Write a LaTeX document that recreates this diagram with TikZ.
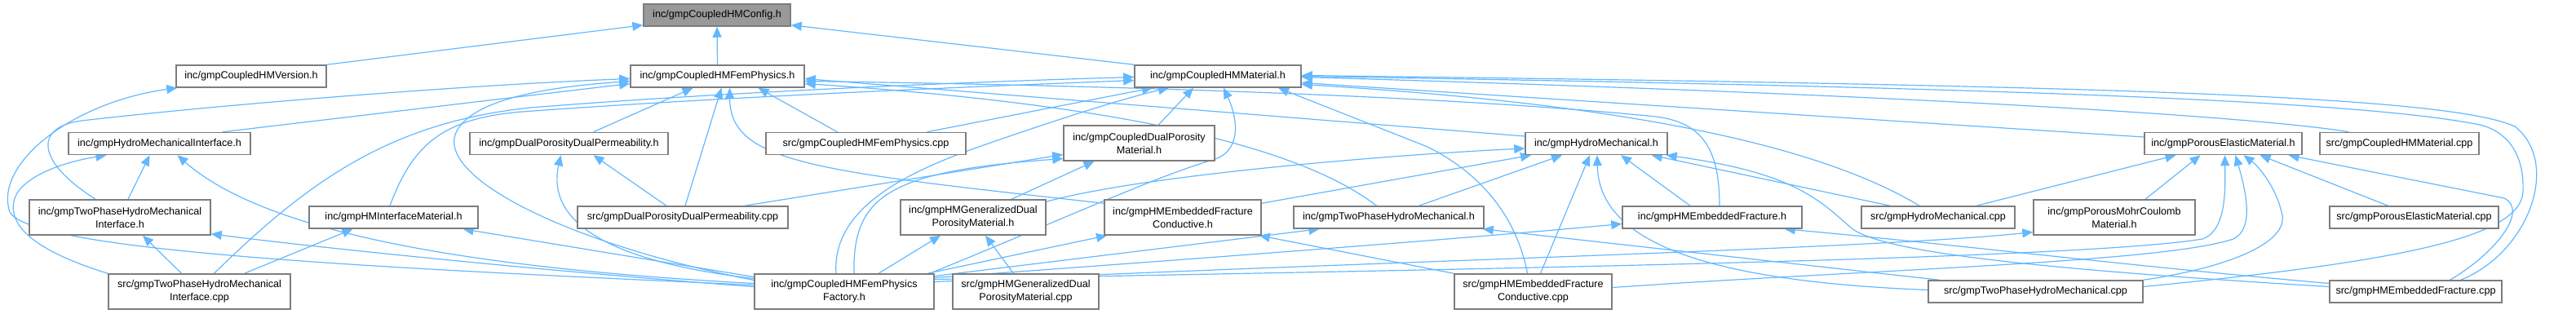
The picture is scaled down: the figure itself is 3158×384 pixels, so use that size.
\documentclass[tikz,border=0pt]{standalone}
\usepackage{fontspec}
\setmainfont{Liberation Sans}
\usetikzlibrary{arrows.meta}
\definecolor{edgeblue}{RGB}{99,184,255}
\definecolor{boxline}{RGB}{125,125,125}
\definecolor{rootfill}{RGB}{153,153,153}
\pgfdeclarelayer{bg}
\pgfsetlayers{bg,main}
\tikzset{
  box/.style={draw=boxline, line width=1.5pt, fill=white, minimum height=27pt, inner sep=0pt,
    font=\fontsize{12.6pt}{16pt}\selectfont, text=black},
  boxtwo/.style={box, minimum height=43pt, align=center},
  edge/.style={draw=edgeblue, line width=1.2pt, -{Triangle[length=13pt,width=11pt]}}
}
\begin{document}
\begin{tikzpicture}[x=1pt,y=-1pt]
\useasboundingbox (0,0) rectangle (3158,384);
% nodes
\node[box, minimum width=180pt, fill=rootfill] (cfg) at (879,18.5) {inc/gmpCoupledHMConfig.h};
\node[box, minimum width=184pt] (ver) at (308,93.5) {inc/gmpCoupledHMVersion.h};
\node[box, minimum width=213pt] (fem) at (879.5,93.5) {inc/gmpCoupledHMFemPhysics.h};
\node[box, minimum width=204pt] (mat) at (1493,93.5) {inc/gmpCoupledHMMaterial.h};
\node[box, minimum width=223pt] (hmi) at (195.5,176) {inc/gmpHydroMechanicalInterface.h};
\node[box, minimum width=243pt] (dpdp) at (697.5,176) {inc/gmpDualPorosityDualPermeability.h};
\node[box, minimum width=245pt] (femcpp) at (1061.5,176) {src/gmpCoupledHMFemPhysics.cpp};
\node[boxtwo, minimum width=185pt] (cdpm) at (1396.5,175.5) {inc/gmpCoupledDualPorosity\\Material.h};
\node[box, minimum width=174pt] (hm) at (1957,176) {inc/gmpHydroMechanical.h};
\node[box, minimum width=193pt] (pem) at (2725.5,176) {inc/gmpPorousElasticMaterial.h};
\node[box, minimum width=195pt] (matcpp) at (2941.5,176) {src/gmpCoupledHMMaterial.cpp};
\node[boxtwo, minimum width=222pt] (tphmi) at (147,266.5) {inc/gmpTwoPhaseHydroMechanical\\Interface.h};
\node[box, minimum width=207pt] (hmim) at (482.5,266.5) {inc/gmpHMInterfaceMaterial.h};
\node[box, minimum width=258pt] (dpdpcpp) at (837,266.5) {src/gmpDualPorosityDualPermeability.cpp};
\node[boxtwo, minimum width=178pt] (hmgdpm) at (1193,266.5) {inc/gmpHMGeneralizedDual\\PorosityMaterial.h};
\node[boxtwo, minimum width=192pt] (efc) at (1450,266.5) {inc/gmpHMEmbeddedFracture\\Conductive.h};
\node[box, minimum width=233pt] (tphm) at (1702.5,266.5) {inc/gmpTwoPhaseHydroMechanical.h};
\node[box, minimum width=220pt] (ef) at (2099,266.5) {inc/gmpHMEmbeddedFracture.h};
\node[box, minimum width=188pt] (hmcpp) at (2376,266.5) {src/gmpHydroMechanical.cpp};
\node[boxtwo, minimum width=198pt] (pmc) at (2592,266.5) {inc/gmpPorousMohrCoulomb\\Material.h};
\node[box, minimum width=207pt] (pecpp) at (2959.5,266.5) {src/gmpPorousElasticMaterial.cpp};
\node[boxtwo, minimum width=223pt] (tphmicpp) at (244.5,357.5) {src/gmpTwoPhaseHydroMechanical\\Interface.cpp};
\node[boxtwo, minimum width=220pt] (fac) at (1035,357.5) {inc/gmpCoupledHMFemPhysics\\Factory.h};
\node[boxtwo, minimum width=179pt] (hmgdpmcpp) at (1257.5,357.5) {src/gmpHMGeneralizedDual\\PorosityMaterial.cpp};
\node[boxtwo, minimum width=193pt] (efccpp) at (1879.5,357.5) {src/gmpHMEmbeddedFracture\\Conductive.cpp};
\node[box, minimum width=263pt] (tphmcpp) at (2495.5,357.5) {src/gmpTwoPhaseHydroMechanical.cpp};
\node[box, minimum width=211pt] (efcpp) at (2961.5,357.5) {src/gmpHMEmbeddedFracture.cpp};
% edges
\begin{pgfonlayer}{bg}
\draw[edge] (ver.north east) -- ([yshift=2pt]cfg.south west);
\draw[edge] (fem.north) -- (cfg.south);
\draw[edge] (mat.north west) -- ([yshift=2pt]cfg.south east);
\draw[edge] ([yshift=8pt]fac.west) .. controls (500,330) and (40,310) .. (12,260) .. controls (-8,200) and (90,125) .. ([xshift=2pt]ver.south west);
\draw[edge] ([xshift=77.5pt]hmi.north) -- ([yshift=-9pt]fem.west);
\draw[edge] ([xshift=-30pt]tphmi.north) .. controls (40,195) and (45,155) .. (100,148) .. controls (300,125) and (600,103) .. ([yshift=-3pt]fem.west);
\draw[edge] ([yshift=14pt]fac.west) .. controls (700,300) and (540,220) .. (558,165) .. controls (575,120) and (680,106) .. ([yshift=-6pt]fem.west);
\draw[edge] ([xshift=30pt]dpdp.north) -- ([xshift=-30pt]fem.south);
\draw[edge] ([xshift=3pt]dpdpcpp.north) -- ([xshift=5pt]fem.south);
\draw[edge] ([xshift=-35pt]femcpp.north) -- ([xshift=50pt]fem.south);
\draw[edge] ([yshift=-5pt]efc.north west) .. controls (1000,210) and (895,200) .. ([xshift=15pt]fem.south);
\draw[edge] ([yshift=9pt]hm.west) -- ([yshift=-3pt]fem.east);
\draw[edge] ([xshift=9pt]ef.north) .. controls (2108,180) and (2085,150) .. (2030,143) .. controls (1750,115) and (1300,104) .. ([yshift=-6pt]fem.east);
\draw[edge] ([xshift=-15pt]tphm.north) .. controls (1600,185) and (1400,130) .. ([yshift=-9pt]fem.east);
\draw[edge] ([xshift=23.5pt]cdpm.north) -- ([xshift=-30pt]mat.south);
\draw[edge] ([xshift=18pt]tphmicpp.north) .. controls (380,220) and (480,150) .. (650,132) .. controls (900,112) and (1200,100) .. ([yshift=-1pt]mat.west);
\draw[edge] ([xshift=-4.5pt]hmim.north) .. controls (505,180) and (540,145) .. (640,137) .. controls (900,118) and (1200,106) .. ([yshift=-5pt]mat.west);
\draw[edge] ([xshift=105pt]fac.north) .. controls (1300,270) and (1420,215) .. (1490,195) .. controls (1525,182) and (1515,140) .. ([xshift=7pt]mat.south);
\draw[edge] ([xshift=-10pt]fac.north) .. controls (1020,260) and (1100,215) .. (1200,180) .. controls (1300,145) and (1380,120) .. ([xshift=-60pt]mat.south);
\draw[edge] ([xshift=12pt]fac.north) .. controls (1045,240) and (1090,210) .. ([yshift=-19pt]cdpm.west);
\draw[edge] ([xshift=75pt]femcpp.north) -- ([xshift=-80pt]mat.south);
\draw[edge] ([xshift=-7pt]efccpp.north) .. controls (1860,270) and (1820,215) .. (1750,180) -- ([xshift=74pt]mat.south);
\draw[edge] ([xshift=-62pt]matcpp.north) .. controls (2780,145) and (2400,118) .. ([yshift=-1pt]mat.east);
\draw[edge] ([yshift=8pt]pem.west) -- ([yshift=-8pt]mat.east);
\draw[edge] ([xshift=55pt]efcpp.north) .. controls (3100,310) and (3140,200) .. (3083,155) .. controls (3000,118) and (2600,105) .. ([yshift=1pt]mat.east);
\draw[edge] ([yshift=6pt]tphmcpp.east) .. controls (2950,320) and (3090,290) .. (3093,235) .. controls (3095,185) and (3070,160) .. (3040,153) .. controls (2900,125) and (2500,108) .. (mat.east);
\draw[edge] ([xshift=-23pt]hmcpp.north) .. controls (2200,160) and (1900,122) .. ([yshift=-10pt]mat.east);
\draw[edge] ([xshift=42pt]efcpp.north) .. controls (3060,310) and (3100,258) .. (3070,243) -- ([xshift=80pt]pem.south);
\draw[edge] (tphmcpp.north east) .. controls (2720,330) and (2810,300) .. (2797,260) .. controls (2790,230) and (2770,205) .. ([xshift=25pt]pem.south);
\draw[edge] ([yshift=5pt]efccpp.east) .. controls (2300,330) and (2650,322) .. (2738,293) .. controls (2765,280) and (2752,230) .. ([xshift=15pt]pem.south);
\draw[edge] ([yshift=15pt]fac.east) .. controls (1800,330) and (2550,318) .. (2700,293) .. controls (2730,283) and (2728,230) .. ([xshift=2pt]pem.south);
\draw[edge] ([xshift=47pt]hmcpp.north) -- ([xshift=-58pt]pem.south);
\draw[edge] ([xshift=38pt]pmc.north) -- ([xshift=-28pt]pem.south);
\draw[edge] ([xshift=-32pt]pecpp.north) -- ([xshift=45pt]pem.south);
\draw[edge] ([yshift=12pt]fac.east) .. controls (1700,320) and (2300,305) .. ([yshift=-18pt]pmc.west);
\draw[edge] ([yshift=17pt]fac.east) .. controls (1500,315) and (1800,292) .. ([yshift=-8pt]ef.west);
\draw[edge] ([yshift=19pt]fac.east) -- ([xshift=-85pt]tphm.south);
\draw[edge] ([xshift=102pt]fac.north) -- ([xshift=-93pt]efc.south);
\draw[edge] ([xshift=42pt]fac.north) -- ([xshift=-40pt]hmgdpm.south);
\draw[edge] ([xshift=-15pt]hmgdpmcpp.north) -- ([xshift=15pt]hmgdpm.south);
\draw[edge] ([xshift=47pt]hmgdpm.north) -- ([xshift=-55pt]cdpm.south);
\draw[edge] ([xshift=76pt]dpdpcpp.north) -- ([yshift=-14pt]cdpm.west);
\draw[edge] (efccpp.north west) -- ([xshift=-3pt]efc.south east);
\draw[edge] ([xshift=37pt]tphm.north) -- ([xshift=-42pt]hm.south);
\draw[edge] ([yshift=-5pt]efc.north east) -- ([xshift=-80pt]hm.south);
\draw[edge] ([yshift=-3pt]hmgdpm.north east) .. controls (1400,215) and (1700,190) .. ([yshift=-6pt]hm.west);
\draw[edge] ([xshift=9pt]efccpp.north) -- ([xshift=-8pt]hm.south);
\draw[edge] ([yshift=2pt]tphmcpp.west) .. controls (2100,345) and (1960,300) .. ([xshift=1pt]hm.south);
\draw[edge] ([xshift=-27pt]ef.north) -- ([xshift=30pt]hm.south);
\draw[edge] ([xshift=-59pt]hmcpp.north) -- ([xshift=-20pt]hm.south east);
\draw[edge] ([yshift=6pt]efcpp.west) .. controls (2500,330) and (2310,310) .. (2270,280) .. controls (2230,245) and (2200,212) .. ([xshift=-2pt]hm.south east);
\draw[edge] ([yshift=10pt]efcpp.west) .. controls (2600,325) and (2400,300) .. ([xshift=-22pt]ef.south east);
\draw[edge] ([xshift=-118pt]tphmcpp.north) -- ([xshift=-2pt]tphm.south east);
\draw[edge] ([xshift=10pt]tphmi.north) -- ([xshift=-12pt]hmi.south);
\draw[edge] (tphmicpp.north west) .. controls (50,310) and (10,280) .. (17,247) .. controls (22,220) and (70,200) .. ([xshift=-65pt]hmi.south);
\draw[edge] ([yshift=10pt]fac.west) .. controls (600,330) and (330,290) .. ([xshift=22pt]hmi.south);
\draw[edge] ([xshift=-22pt]tphmicpp.north) -- ([xshift=28pt]tphmi.south);
\draw[edge] ([yshift=6pt]fac.west) .. controls (700,335) and (400,305) .. ([yshift=2pt]tphmi.south east);
\draw[edge] ([xshift=55pt]tphmicpp.north) -- ([xshift=-50pt]hmim.south);
\draw[edge] ([yshift=18pt]fac.west) -- ([xshift=85pt]hmim.south);
\draw[edge] ([yshift=16pt]fac.west) .. controls (740,320) and (670,270) .. ([xshift=-10pt]dpdp.south);
\draw[edge] ([xshift=-20pt]dpdpcpp.north) -- ([xshift=30pt]dpdp.south);
\end{pgfonlayer}
\end{tikzpicture}
\end{document}
